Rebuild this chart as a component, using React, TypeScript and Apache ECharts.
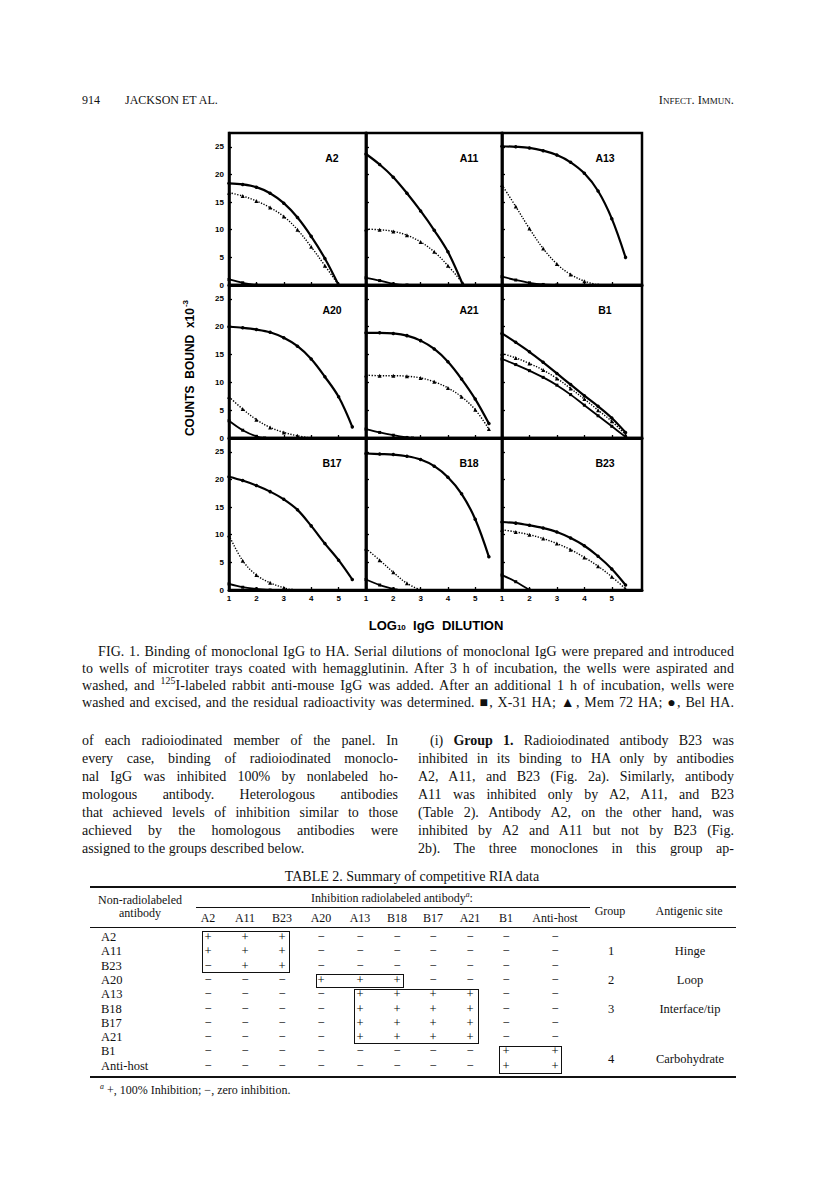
import React, { useEffect, useRef } from "react";
import * as echarts from "echarts";

// ---------- DATA ----------
const X_TICKS = [1, 2, 3, 4, 5];
const Y_TICKS = [0, 5, 10, 15, 20, 25];
const Y_INNER_TICKS = [5, 10, 15, 20, 25];
const PANEL_NAMES = ["A2", "A11", "A13", "A20", "A21", "B1", "B17", "B18", "B23"];

// ● Bel HA (heavy solid), ▲ Mem 72 HA (dotted), ■ X-31 HA (lower solid)
const A2_BEL = [[1, 18.4], [1.5, 18.2], [2, 17.7], [2.5, 16.6], [3, 14.8], [3.5, 12.2], [4, 8.8], [4.5, 4.8], [5, 0]];
const A2_MEM = [[1, 16.7], [1.5, 16.1], [2, 15.2], [2.5, 14.0], [3, 12.4], [3.5, 10.0], [4, 6.9], [4.5, 3.5], [5, 0]];
const A2_X31 = [[1, 1.0], [1.5, 0.4], [2, 0]];

const A11_BEL = [[1, 23.7], [1.5, 21.8], [2, 19.5], [2.5, 16.6], [3, 13.4], [3.5, 9.9], [4, 6.0], [4.55, 0]];
const A11_MEM = [[1, 10.1], [1.5, 10.0], [2, 9.7], [2.5, 9.0], [3, 7.8], [3.5, 6.0], [4, 3.5], [4.55, 0.3]];
const A11_X31 = [[1, 1.3], [1.5, 0.8], [2, 0.2], [2.5, 0]];

const A13_BEL = [[1, 25.1], [1.5, 25.0], [2, 24.8], [2.5, 24.3], [3, 23.5], [3.5, 22.2], [4, 20.2], [4.5, 17.0], [5, 12.0], [5.5, 5.0]];
const A13_MEM = [[1, 18.1], [1.5, 14.2], [2, 10.2], [2.5, 6.6], [3, 3.8], [3.5, 1.9], [4, 0.7], [4.5, 0]];
const A13_X31 = [[1, 1.5], [1.5, 0.9], [2, 0.4], [2.5, 0.1], [3, 0]];

const A20_BEL = [[1, 20.0], [1.5, 19.8], [2, 19.5], [2.5, 19.0], [3, 18.0], [3.5, 16.5], [4, 14.2], [4.5, 11.0], [5, 7.4], [5.5, 2.0]];
const A20_MEM = [[1, 7.4], [1.5, 5.2], [2, 3.3], [2.5, 1.9], [3, 1.0], [3.5, 0.4], [4, 0]];
const A20_X31 = [[1, 3.1], [1.5, 1.4], [2, 0.3], [2.3, 0]];

const A21_BEL = [[1, 18.9], [1.5, 18.9], [2, 18.8], [2.5, 18.4], [3, 17.5], [3.5, 16.0], [4, 13.7], [4.5, 10.6], [5, 7.0], [5.5, 2.6]];
const A21_MEM = [[1, 11.3], [1.5, 11.2], [2, 11.2], [2.5, 11.1], [3, 10.8], [3.5, 10.1], [4, 9.0], [4.5, 7.4], [5, 5.1], [5.5, 1.6]];
const A21_X31 = [[1, 1.6], [1.5, 1.0], [2, 0.5], [2.5, 0.1], [2.7, 0]];

const B1_BEL = [[1, 18.8], [1.5, 17.2], [2, 15.5], [2.5, 13.6], [3, 11.6], [3.5, 9.6], [4, 7.6], [4.5, 5.7], [5, 3.6], [5.5, 1.0]];
const B1_MEM = [[1, 15.2], [1.5, 14.4], [2, 13.4], [2.5, 12.2], [3, 10.7], [3.5, 8.9], [4, 7.0], [4.5, 5.0], [5, 3.0], [5.5, 0.6]];
const B1_X31 = [[1, 14.2], [1.5, 13.2], [2, 12.1], [2.5, 10.9], [3, 9.5], [3.5, 7.8], [4, 5.9], [4.5, 4.0], [5, 2.1], [5.5, 0.2]];

const B17_BEL = [[1, 20.5], [1.5, 19.8], [2, 18.9], [2.5, 17.8], [3, 16.4], [3.5, 14.5], [4, 11.6], [4.5, 8.4], [5, 5.4], [5.5, 1.9]];
const B17_MEM = [[1, 9.9], [1.5, 5.3], [2, 2.7], [2.5, 1.3], [3, 0.4], [3.3, 0]];
const B17_X31 = [[1, 1.1], [1.5, 0.5], [2, 0.2], [2.5, 0]];

const B18_BEL = [[1, 24.7], [1.5, 24.6], [2, 24.5], [2.5, 24.2], [3, 23.6], [3.5, 22.4], [4, 20.4], [4.5, 17.4], [5, 12.8], [5.5, 6.0]];
const B18_MEM = [[1, 7.5], [1.5, 5.4], [2, 3.2], [2.5, 1.2], [3, 0]];
const B18_X31 = [[1, 1.9], [1.5, 0.9], [2, 0.2], [2.1, 0]];

const B23_BEL = [[1, 12.3], [1.5, 12.1], [2, 11.7], [2.5, 11.2], [3, 10.5], [3.5, 9.4], [4, 8.0], [4.5, 6.1], [5, 3.8], [5.5, 0.9]];
const B23_MEM = [[1, 10.9], [1.5, 10.5], [2, 10.0], [2.5, 9.3], [3, 8.4], [3.5, 7.3], [4, 5.9], [4.5, 4.3], [5, 2.4], [5.5, 0.2]];
const B23_X31 = [[1, 2.7], [1.5, 1.5], [2, 0]];

const PANEL_DATA = [
  [A2_BEL, A2_MEM, A2_X31],
  [A11_BEL, A11_MEM, A11_X31],
  [A13_BEL, A13_MEM, A13_X31],
  [A20_BEL, A20_MEM, A20_X31],
  [A21_BEL, A21_MEM, A21_X31],
  [B1_BEL, B1_MEM, B1_X31],
  [B17_BEL, B17_MEM, B17_X31],
  [B18_BEL, B18_MEM, B18_X31],
  [B23_BEL, B23_MEM, B23_X31],
];

// Table 2
const TABLE_ROWS = ["A2", "A11", "B23", "A20", "A13", "B18", "B17", "A21", "B1", "Anti-host"];
const TABLE_COLS = ["A2", "A11", "B23", "A20", "A13", "B18", "B17", "A21", "B1", "Anti-host"];
const TABLE_VALUES = [
  "+++-------",
  "+++-------",
  "-++-------",
  "---+++----",
  "----++++--",
  "----++++--",
  "----++++--",
  "----++++--",
  "--------++",
  "--------++",
];
const GROUPS = [
  { group: "1", site: "Hinge", row: 1 },
  { group: "2", site: "Loop", row: 3 },
  { group: "3", site: "Interface/tip", row: 5 },
  { group: "4", site: "Carbohydrate", row: 8.5 },
];

const CAPTION_LINES = [
  "FIG. 1. Binding of monoclonal IgG to HA. Serial dilutions of monoclonal IgG were prepared and introduced",
  "to wells of microtiter trays coated with hemagglutinin. After 3 h of incubation, the wells were aspirated and",
  "washed, and {125}I-labeled rabbit anti-mouse IgG was added. After an additional 1 h of incubation, wells were",
  "washed and excised, and the residual radioactivity was determined. \u25A0, X-31 HA; \u25B2, Mem 72 HA; \u25CF, Bel HA.",
];
const LEFT_COL_LINES = [
  "of each radioiodinated member of the panel. In",
  "every case, binding of radioiodinated monoclo-",
  "nal IgG was inhibited 100% by nonlabeled ho-",
  "mologous antibody. Heterologous antibodies",
  "that achieved levels of inhibition similar to those",
  "achieved by the homologous antibodies were",
  "assigned to the groups described below.",
];
const RIGHT_COL_LINES = [
  "(i) **Group 1.** Radioiodinated antibody B23 was",
  "inhibited in its binding to HA only by antibodies",
  "A2, A11, and B23 (Fig. 2a). Similarly, antibody",
  "A11 was inhibited only by A2, A11, and B23",
  "(Table 2). Antibody A2, on the other hand, was",
  "inhibited by A2 and A11 but not by B23 (Fig.",
  "2b). The three monoclones in this group ap-",
];

// ---------- LAYOUT ----------
const COL_LEFT = [229, 366, 502];
const COL_W = [137, 136, 140];
const X_MAX = [6, 5.98, 6.1];
const ROW_TOP = [133, 285, 438];
const ROW_H = [152, 153, 152];
const SANS = '"Liberation Sans", "DejaVu Sans", Arial, sans-serif';
const SERIF = '"Liberation Serif", "Times New Roman", serif';

function Chart() {
  const ref = useRef<HTMLDivElement>(null);
  useEffect(() => {
    if (!ref.current) return;
    const chart = echarts.init(ref.current, undefined, { renderer: "svg" });
    const grids: any[] = [];
    const xAxes: any[] = [];
    const yAxes: any[] = [];
    const series: any[] = [];
    const graphics: any[] = [];
    PANEL_NAMES.forEach((name, i) => {
      const col = i % 3;
      const row = Math.floor(i / 3);
      grids.push({
        left: COL_LEFT[col],
        top: ROW_TOP[row],
        width: COL_W[col],
        height: ROW_H[row],
        show: true,
        borderColor: "#000",
        borderWidth: 2.5,
        backgroundColor: "transparent",
      });
      xAxes.push({
        type: "value",
        gridIndex: i,
        min: 1,
        max: X_MAX[col],
        interval: 1,
        axisLine: { show: true, onZero: false, lineStyle: { color: "#000", width: 3 } },
        axisTick: { show: true, inside: true, length: 3, customValues: X_TICKS, lineStyle: { color: "#000", width: 1.3 } },
        axisLabel: {
          show: row === 2,
          customValues: X_TICKS,
          formatter: (v: number) => (X_TICKS.indexOf(v) >= 0 ? String(v) : ""),
          fontSize: 8,
          fontWeight: "bold",
          fontFamily: SANS,
          color: "#000",
          margin: 4,
        },
        splitLine: { show: false },
      });
      yAxes.push({
        type: "value",
        gridIndex: i,
        min: 0,
        max: 27.5,
        interval: 5,
        axisLine: { show: true, onZero: false, lineStyle: { color: "#000", width: 2.5 } },
        axisTick: { show: true, inside: true, length: 3, customValues: Y_INNER_TICKS, lineStyle: { color: "#000", width: 1.3 } },
        axisLabel: {
          show: col === 0,
          customValues: Y_TICKS,
          formatter: (v: number) => (Y_TICKS.indexOf(v) >= 0 ? String(v) : ""),
          fontSize: 8,
          fontWeight: "bold",
          fontFamily: SANS,
          color: "#000",
          margin: 5,
        },
        splitLine: { show: false },
      });
      const [bel, mem, x31] = PANEL_DATA[i];
      series.push({
        type: "line", xAxisIndex: i, yAxisIndex: i, data: bel, smooth: 0.35,
        symbol: "circle", symbolSize: 3.5, silent: true, z: 4,
        lineStyle: { color: "#000", width: 2.2 }, itemStyle: { color: "#000" },
      });
      series.push({
        type: "line", xAxisIndex: i, yAxisIndex: i, data: mem, smooth: 0.35,
        symbol: "triangle", symbolSize: 4, silent: true, z: 3,
        lineStyle: { color: "#000", width: 1.4, type: [1.3, 1.5] }, itemStyle: { color: "#000" },
      });
      series.push({
        type: "line", xAxisIndex: i, yAxisIndex: i, data: x31, smooth: 0.35,
        symbol: "rect", symbolSize: 3, silent: true, z: 3,
        lineStyle: { color: "#000", width: 1.8 }, itemStyle: { color: "#000" },
      });
      graphics.push({
        type: "text",
        x: COL_LEFT[col] + 103,
        y: ROW_TOP[row] + 25,
        style: {
          text: name,
          fontSize: 10.5,
          fontWeight: "bold",
          fontFamily: SANS,
          fill: "#000",
          align: "center",
          verticalAlign: "middle",
        },
      });
    });
    graphics.push({
      type: "text",
      x: 190,
      y: 368,
      rotation: Math.PI / 2,
      style: {
        text: "{a|COUNTS  BOUND  x10}{s|-3}",
        align: "center",
        verticalAlign: "middle",
        fill: "#000",
        rich: {
          a: { fontSize: 12, fontWeight: "bold", fontFamily: SANS, fill: "#000", lineHeight: 16 },
          s: { fontSize: 8, fontWeight: "bold", fontFamily: SANS, fill: "#000", padding: [0, 0, 9, 1], lineHeight: 16 },
        },
      },
    });
    graphics.push({
      type: "text",
      x: 436,
      y: 627,
      style: {
        text: "{a|LOG}{s|10}{a|  IgG  DILUTION}",
        align: "center",
        verticalAlign: "middle",
        fill: "#000",
        rich: {
          a: { fontSize: 13, fontWeight: "bold", fontFamily: SANS, fill: "#000", lineHeight: 16, padding: [0, 0, 3, 0] },
          s: { fontSize: 8, fontWeight: "bold", fontFamily: SANS, fill: "#000", lineHeight: 16 },
        },
      },
    });
    chart.setOption({
      animation: false,
      backgroundColor: "transparent",
      grid: grids,
      xAxis: xAxes,
      yAxis: yAxes,
      series,
      graphic: graphics,
    });
    return () => chart.dispose();
  }, []);
  return <div ref={ref} style={{ position: "absolute", left: 0, top: 0, width: 816, height: 1179 }} />;
}

function renderRich(s: string) {
  // {..} => superscript, **..** => bold
  const parts: any[] = [];
  const re = /(\{[^}]+\}|\*\*[^*]+\*\*)/g;
  let last = 0;
  let m: RegExpExecArray | null;
  let k = 0;
  while ((m = re.exec(s))) {
    if (m.index > last) parts.push(s.slice(last, m.index));
    const tok = m[0];
    if (tok.startsWith("{")) parts.push(<sup key={k++} style={{ fontSize: "0.7em", lineHeight: 0 }}>{tok.slice(1, -1)}</sup>);
    else parts.push(<b key={k++}>{tok.slice(2, -2)}</b>);
    last = m.index + tok.length;
  }
  if (last < s.length) parts.push(s.slice(last));
  return parts;
}

function Line({ text, left, width, top, size, lh, ls = 0, justify = true }: any) {
  return (
    <div
      style={{
        position: "absolute",
        left,
        top,
        width,
        height: lh,
        lineHeight: `${lh}px`,
        fontSize: size,
        letterSpacing: ls,
        fontFamily: SERIF,
        color: "#111",
        textAlign: justify ? "justify" : "left",
        textAlignLast: justify ? "justify" : "left",
        whiteSpace: "nowrap",
      } as any}
    >
      {renderRich(text)}
    </div>
  );
}

function T({ x, y, children, size = 12, align = "center", weight = 400, style = {} }: any) {
  const lh = Math.round(size * 1.25);
  const tx = align === "center" ? "translateX(-50%)" : align === "right" ? "translateX(-100%)" : "none";
  return (
    <div
      style={{
        position: "absolute",
        left: x,
        top: y - lh / 2,
        lineHeight: `${lh}px`,
        fontSize: size,
        fontFamily: SERIF,
        fontWeight: weight,
        color: "#111",
        whiteSpace: "nowrap",
        transform: tx,
        ...style,
      }}
    >
      {children}
    </div>
  );
}

const TABLE_COL_X = [208, 245, 282, 321, 360, 397, 433, 470, 506, 555];
const TABLE_ROW_Y0 = 937;
const TABLE_ROW_DY = 14.3;

function Rule({ x, y, w, h = 1 }: any) {
  return <div style={{ position: "absolute", left: x, top: y, width: w, height: h, background: "#111" }} />;
}
function Box({ x1, y1, x2, y2 }: any) {
  return (
    <div
      style={{
        position: "absolute",
        left: x1,
        top: y1,
        width: x2 - x1,
        height: y2 - y1,
        border: "1px solid #111",
        boxSizing: "border-box",
      }}
    />
  );
}

export default function App() {
  const rowY = (r: number) => TABLE_ROW_Y0 + r * TABLE_ROW_DY;
  return (
    <div style={{ position: "absolute", left: 0, top: 0, width: 816, height: 1179, background: "#fff", overflow: "hidden" }}>
      <Chart />
      {/* header */}
      <T x={82} y={100} size={12} align="left">914</T>
      <T x={125} y={100} size={12} align="left">JACKSON ET AL.</T>
      <T x={734} y={100} size={12.5} align="right" style={{ fontVariant: "small-caps" }}>Infect. Immun.</T>

      {/* caption */}
      {CAPTION_LINES.map((l, i) => (
        <Line key={"c" + i} text={l} left={i === 0 ? 98 : 82} width={i === 0 ? 636 : 652} top={642.5 + i * 17} size={14} lh={17} ls={0.1} />
      ))}

      {/* body text */}
      {LEFT_COL_LINES.map((l, i) => (
        <Line key={"l" + i} text={l} left={82} width={316} top={732 + i * 18} size={14} lh={18} justify={i < LEFT_COL_LINES.length - 1} />
      ))}
      {RIGHT_COL_LINES.map((l, i) => (
        <Line key={"r" + i} text={l} left={i === 0 ? 430 : 418} width={i === 0 ? 304 : 316} top={732 + i * 18} size={14} lh={18} />
      ))}

      {/* table */}
      <T x={412} y={877} size={14}>TABLE 2. Summary of competitive RIA data</T>
      <Rule x={90} y={886} w={646} h={1.5} />
      <T x={140} y={900} size={12}>Non-radiolabeled</T>
      <T x={140} y={913} size={12}>antibody</T>
      <T x={392} y={898} size={12}>
        Inhibition radiolabeled antibody<sup style={{ fontSize: "0.65em", lineHeight: 0 }}><i>a</i></sup>:
      </T>
      <Rule x={196} y={907} w={394} h={1} />
      {TABLE_COLS.map((c, j) => (
        <T key={"h" + j} x={TABLE_COL_X[j]} y={918} size={12}>{c}</T>
      ))}
      <T x={610} y={911} size={12}>Group</T>
      <T x={689} y={911} size={12}>Antigenic site</T>
      <Rule x={90} y={927} w={646} h={1} />
      {TABLE_ROWS.map((r, i) => (
        <T key={"rl" + i} x={101} y={rowY(i)} size={12.5} align="left">{r}</T>
      ))}
      {TABLE_VALUES.map((row, i) =>
        row.split("").map((v, j) => (
          <T key={"v" + i + "-" + j} x={TABLE_COL_X[j]} y={rowY(i)} size={12.5} style={{ color: "#000" }}>{v === "+" ? "+" : "\u2212"}</T>
        ))
      )}
      {GROUPS.map((g, i) => (
        <React.Fragment key={"g" + i}>
          <T x={611} y={rowY(g.row)} size={12.5}>{g.group}</T>
          <T x={690} y={rowY(g.row)} size={12.5}>{g.site}</T>
        </React.Fragment>
      ))}
      <Box x1={202} y1={931} x2={290} y2={973} />
      <Box x1={316} y1={974} x2={404} y2={988} />
      <Box x1={354} y1={989} x2={479} y2={1044} />
      <Box x1={499} y1={1046} x2={562} y2={1074} />
      <Rule x={90} y={1076} w={646} h={1.5} />
      <T x={100} y={1090} size={12} align="left">
        <sup style={{ fontSize: "0.65em", lineHeight: 0 }}><i>a</i></sup> +, 100% Inhibition; {"\u2212"}, zero inhibition.
      </T>
    </div>
  );
}
